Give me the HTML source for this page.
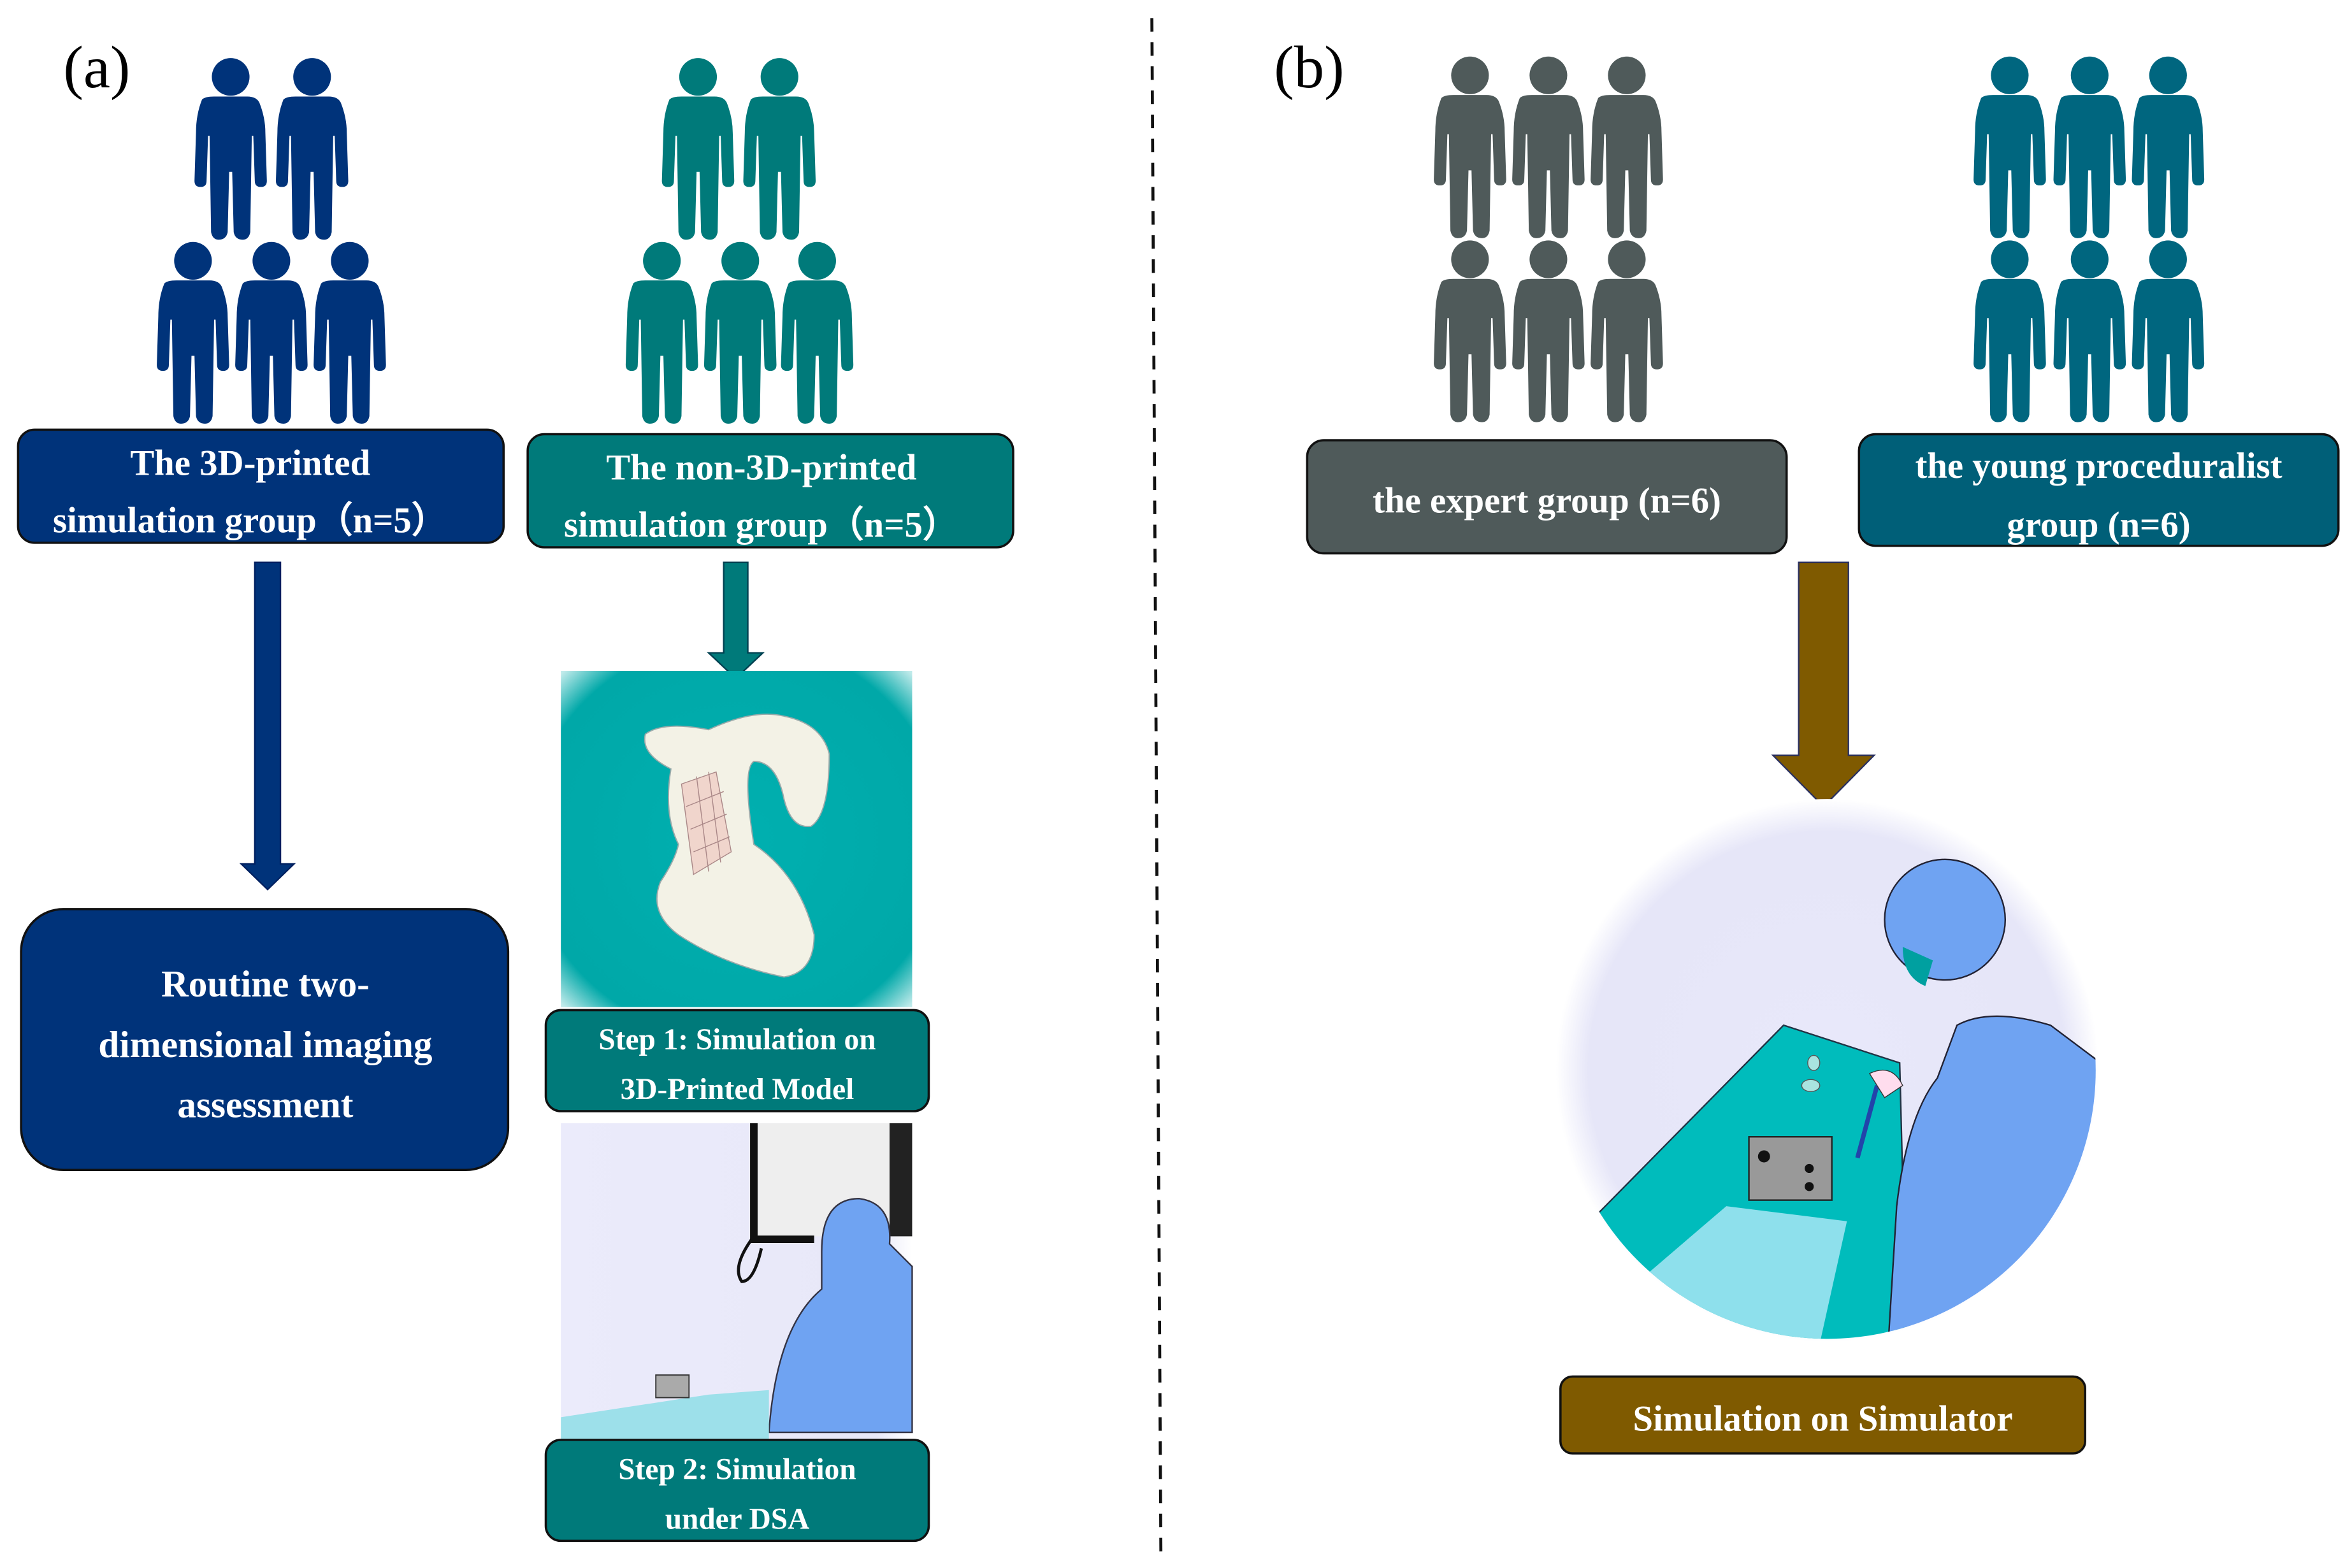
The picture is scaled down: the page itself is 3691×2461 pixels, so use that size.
<!DOCTYPE html>
<html><head><meta charset="utf-8"><style>
html,body{margin:0;padding:0;background:#fff;}
svg{display:block;}
text{font-family:"Liberation Serif","DejaVu Serif",serif;font-weight:bold;fill:#fff;}
</style></head><body>
<svg width="3691" height="2461" viewBox="0 0 1560 1040" preserveAspectRatio="none" xmlns="http://www.w3.org/2000/svg">
<defs>
<g id="p">
<circle cx="26" cy="13" r="12.5"/>
<path d="M7,28 Q9,26 15,26 L37,26 Q43,26 45,30 Q49,40 49,50 L50,82 Q50,86 46,86 Q42,86 42,82 L41,52 L40,52 L39,116 Q38,121 34,121 Q29,121 28,116 L27,76 L25,76 L24,116 Q23,121 18,121 Q14,121 13,116 L12,52 L11,52 L10,82 Q10,86 6,86 Q2,86 2,82 L3,50 Q3,38 7,28 Z"/>
</g>
<radialGradient id="tealbg" cx="0.5" cy="0.5" r="0.7"><stop offset="0" stop-color="#00b0b0"/><stop offset="0.85" stop-color="#00a8a8"/><stop offset="1" stop-color="#bfeaea"/></radialGradient>
<radialGradient id="circ" cx="0.5" cy="0.5" r="0.5"><stop offset="0" stop-color="#e8e8fa"/><stop offset="0.88" stop-color="#e6e6f8"/><stop offset="1" stop-color="#ffffff"/></radialGradient>
<linearGradient id="lav" x1="0" y1="0" x2="1" y2="0"><stop offset="0" stop-color="#ebebfb"/><stop offset="0.9" stop-color="#e8e8f8"/><stop offset="1" stop-color="#fff"/></linearGradient>
<clipPath id="cc"><circle cx="1212" cy="710" r="178"/></clipPath>
</defs>

<text x="42" y="58" style="font-weight:normal;fill:#000;font-size:40px">(a)</text>
<text x="845" y="58" style="font-weight:normal;fill:#000;font-size:40px">(b)</text>

<g fill="#00337a">
<use href="#p" x="127" y="38"/><use href="#p" x="181" y="38"/>
<use href="#p" x="102" y="160"/><use href="#p" x="154" y="160"/><use href="#p" x="206" y="160"/>
</g>
<g fill="#007a7a">
<use href="#p" x="437" y="38"/><use href="#p" x="491" y="38"/>
<use href="#p" x="413" y="160"/><use href="#p" x="465" y="160"/><use href="#p" x="516" y="160"/>
</g>
<g fill="#4f5a5a">
<use href="#p" x="949" y="37"/><use href="#p" x="1001" y="37"/><use href="#p" x="1053" y="37"/>
<use href="#p" x="949" y="159"/><use href="#p" x="1001" y="159"/><use href="#p" x="1053" y="159"/>
</g>
<g fill="#00667f">
<use href="#p" x="1307" y="37"/><use href="#p" x="1360" y="37"/><use href="#p" x="1412" y="37"/>
<use href="#p" x="1307" y="159"/><use href="#p" x="1360" y="159"/><use href="#p" x="1412" y="159"/>
</g>

<rect x="12" y="285" width="322" height="75" rx="11" fill="#00337a" stroke="#111" stroke-width="1.5"/>
<text x="166" y="315" text-anchor="middle" font-size="24">The 3D-printed</text>
<text x="166" y="353" text-anchor="middle" font-size="24">simulation group（n=5）</text>
<rect x="350" y="288" width="322" height="75" rx="11" fill="#007a7a" stroke="#111" stroke-width="1.5"/>
<text x="505" y="318" text-anchor="middle" font-size="24">The non-3D-printed</text>
<text x="505" y="356" text-anchor="middle" font-size="24">simulation group（n=5）</text>
<rect x="867" y="292" width="318" height="75" rx="11" fill="#4f5a5a" stroke="#111" stroke-width="1.5"/>
<text x="1026" y="340" text-anchor="middle" font-size="24">the expert group (n=6)</text>
<rect x="1233" y="288" width="318" height="74" rx="11" fill="#005f78" stroke="#111" stroke-width="1.5"/>
<text x="1392" y="317" text-anchor="middle" font-size="24">the young proceduralist</text>
<text x="1392" y="356" text-anchor="middle" font-size="24">group (n=6)</text>

<path d="M169,373 H186 V573 H195 L177.5,590 L160,573 H169 Z" fill="#00337a" stroke="#002060" stroke-width="1"/>
<path d="M480,373 H496 V433 H506 L488,450 L470,433 H480 Z" fill="#007a7a" stroke="#004050" stroke-width="1"/>
<path d="M1193,373 H1226 V501 H1243 L1209.5,535 L1176,501 H1193 Z" fill="#7f5a00" stroke="#2a3060" stroke-width="1"/>

<rect x="14" y="603" width="323" height="173" rx="28" fill="#00337a" stroke="#111" stroke-width="1.5"/>
<text x="176" y="661" text-anchor="middle" font-size="25">Routine two-</text>
<text x="176" y="701" text-anchor="middle" font-size="25">dimensional imaging</text>
<text x="176" y="741" text-anchor="middle" font-size="25">assessment</text>

<rect x="372" y="445" width="233" height="223" fill="url(#tealbg)"/>
<path d="M428,487 Q440,478 470,484 Q500,470 520,475 Q545,480 550,500 Q550,540 538,548 Q525,550 520,530 Q515,505 500,505 Q492,510 500,560 Q530,580 540,620 Q540,645 520,648 Q480,640 450,620 Q430,605 438,585 Q448,570 450,560 Q440,540 445,510 Q425,500 428,487 Z" fill="#f3f2e6" stroke="#9aa" stroke-width="0.8"/>
<path d="M452,520 L475,512 L485,565 L460,580 Z" fill="#f0d5cc" stroke="#a88" stroke-width="0.6"/>
<path d="M455,535 L480,525 M458,550 L482,540 M460,565 L484,555 M462,515 L470,578 M470,512 L478,572" stroke="#a88" stroke-width="0.6"/>
<rect x="362" y="670" width="254" height="67" rx="10" fill="#007a7a" stroke="#111" stroke-width="1.5"/>
<text x="489" y="696" text-anchor="middle" font-size="20">Step 1: Simulation on</text>
<text x="489" y="729" text-anchor="middle" font-size="20">3D-Printed Model</text>

<rect x="372" y="745" width="233" height="210" fill="url(#lav)"/>
<rect x="500" y="745" width="105" height="75" fill="#eee"/>
<path d="M500,745 V822 H540" stroke="#111" stroke-width="5" fill="none"/>
<rect x="590" y="745" width="15" height="75" fill="#222"/>
<path d="M500,820 Q485,840 492,850 Q500,850 505,828" stroke="#111" stroke-width="2" fill="none"/>
<path d="M510,950 Q515,880 545,855 L545,830 Q545,795 570,795 Q592,798 590,825 L605,840 V950 Z" fill="#6fa3f2" stroke="#334" stroke-width="1"/>
<path d="M372,940 L470,925 L510,922 V955 H372 Z" fill="#9de0ea"/>
<rect x="435" y="912" width="22" height="15" fill="#aaa" stroke="#333" stroke-width="0.8"/>
<rect x="362" y="955" width="254" height="67" rx="10" fill="#007a7a" stroke="#111" stroke-width="1.5"/>
<text x="489" y="981" text-anchor="middle" font-size="20">Step 2: Simulation</text>
<text x="489" y="1014" text-anchor="middle" font-size="20">under DSA</text>

<line x1="764" y1="12" x2="770" y2="1035" stroke="#111" stroke-width="2" stroke-dasharray="9,7"/>

<circle cx="1212" cy="710" r="180" fill="url(#circ)"/>
<g clip-path="url(#cc)">
<path d="M1045,820 L1183,680 L1260,705 L1265,900 L1060,900 Z" fill="#00bcbc" stroke="#234" stroke-width="1"/>
<path d="M1075,860 L1145,800 L1225,810 L1205,900 L1085,900 Z" fill="#8ee0ec"/>
<path d="M1250,930 L1258,800 Q1265,740 1285,715 L1298,680 Q1320,668 1360,680 L1400,710 V930 Z" fill="#6fa3f2" stroke="#223" stroke-width="1"/>
<circle cx="1290" cy="610" r="40" fill="#6fa3f2" stroke="#223" stroke-width="1"/>
<path d="M1262,628 Q1262,648 1277,654 L1282,637 Z" fill="#00a0a0"/>
<rect x="1160" y="754" width="55" height="42" fill="#999" stroke="#222" stroke-width="1"/>
<circle cx="1170" cy="767" r="4" fill="#111"/><circle cx="1200" cy="775" r="3" fill="#111"/><circle cx="1200" cy="787" r="3" fill="#111"/>
<ellipse cx="1201" cy="720" rx="6" ry="4" fill="#a9e4e0" stroke="#555" stroke-width="0.6"/>
<ellipse cx="1203" cy="705" rx="4" ry="5" fill="#a9e4e0" stroke="#555" stroke-width="0.6"/>
<path d="M1245,720 L1232,768" stroke="#2244aa" stroke-width="3"/>
<path d="M1240,712 Q1255,705 1262,720 L1250,728 Z" fill="#fde" stroke="#333" stroke-width="0.6"/>
</g>
<rect x="1035" y="913" width="348" height="51" rx="8" fill="#7f5a00" stroke="#111" stroke-width="1.5"/>
<text x="1209" y="949" text-anchor="middle" font-size="24">Simulation on Simulator</text>
</svg>
</body></html>
